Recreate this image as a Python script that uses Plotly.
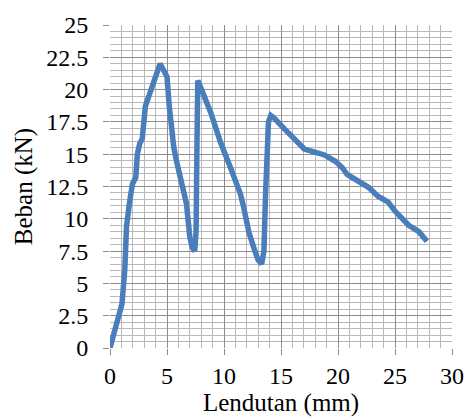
import plotly.graph_objects as go

lendutan = [0, 0.5, 1.05, 1.3, 1.45, 1.7, 1.97, 2.26, 2.4, 2.6, 2.83, 3.1, 3.55, 4.0, 4.4,
            4.75, 5.0, 5.2, 5.4, 5.6, 5.85, 6.3, 6.7, 7.0, 7.2, 7.43, 7.55, 7.62, 7.7,
            7.8, 8.85, 9.7, 10.6, 11.45, 11.7, 11.9, 12.2, 12.75, 13.0, 13.3, 13.5, 13.65,
            13.9, 14.1, 14.4, 15.3, 16.2, 17.05, 17.8, 18.8, 19.8, 20.4, 20.8, 21.8, 22.7,
            23.5, 24.4, 25.0, 25.5, 26.2, 27.1, 27.8]
beban = [0, 1.5, 3.4, 6.1, 9.4, 11.2, 12.7, 13.2, 15.0, 15.8, 16.2, 18.7, 20.0, 21.0, 22.0,
         21.5, 21.0, 18.7, 16.7, 15.5, 14.4, 12.9, 11.2, 8.6, 7.8, 7.5, 9.0, 15.0, 20.7,
         20.5, 18.2, 15.9, 13.9, 11.9, 11.0, 9.9, 8.9, 7.4, 6.8, 6.5, 7.5, 12.0,
         17.5, 18.0, 17.8, 16.96, 16.2, 15.4, 15.2, 14.94, 14.43, 13.93, 13.43, 12.92, 12.42,
         11.75, 11.3, 10.6, 10.15, 9.5, 9.0, 8.26]

x_ticks = [0, 5, 10, 15, 20, 25, 30]
y_ticks = [0, 2.5, 5, 7.5, 10, 12.5, 15, 17.5, 20, 22.5, 25]

font = "Liberation Serif"

fig = go.Figure()
fig.add_trace(go.Scatter(x=lendutan, y=beban, mode="lines",
                         line=dict(color="#4a7ebb", width=5.5), hoverinfo="skip"))

fig.update_layout(
    width=476, height=420,
    margin=dict(l=110, r=17, t=17, b=72),
    paper_bgcolor="white", plot_bgcolor="white",
    showlegend=False,
    font=dict(family=font, size=24, color="black"),
)
fig.update_xaxes(
    range=[0, 30], tickvals=x_ticks, ticktext=[str(v) for v in x_ticks],
    showgrid=True, gridcolor="#8c8c8c", gridwidth=1,
    minor=dict(dtick=1, showgrid=True, gridcolor="#b8b8b8", gridwidth=1),
    ticks="outside", ticklen=6, tickcolor="#8c8c8c",
    zeroline=False, showline=False,
    title=dict(text="Lendutan (mm)", font=dict(family=font, size=25, color="black"), standoff=0),
    tickfont=dict(family=font, size=24, color="black"),
)
fig.update_yaxes(
    range=[0, 25], tickvals=y_ticks, ticktext=[f"{v:g}" for v in y_ticks],
    showgrid=True, gridcolor="#8c8c8c", gridwidth=1,
    minor=dict(dtick=0.5, showgrid=True, gridcolor="#b8b8b8", gridwidth=1),
    ticks="outside", ticklen=6, tickcolor="#8c8c8c", ticklabelstandoff=10,
    zeroline=False, showline=False,
    title=dict(text="Beban (kN)", font=dict(family=font, size=25, color="black"), standoff=6),
    tickfont=dict(family=font, size=24, color="black"),
)
fig.write_html("out.html")
